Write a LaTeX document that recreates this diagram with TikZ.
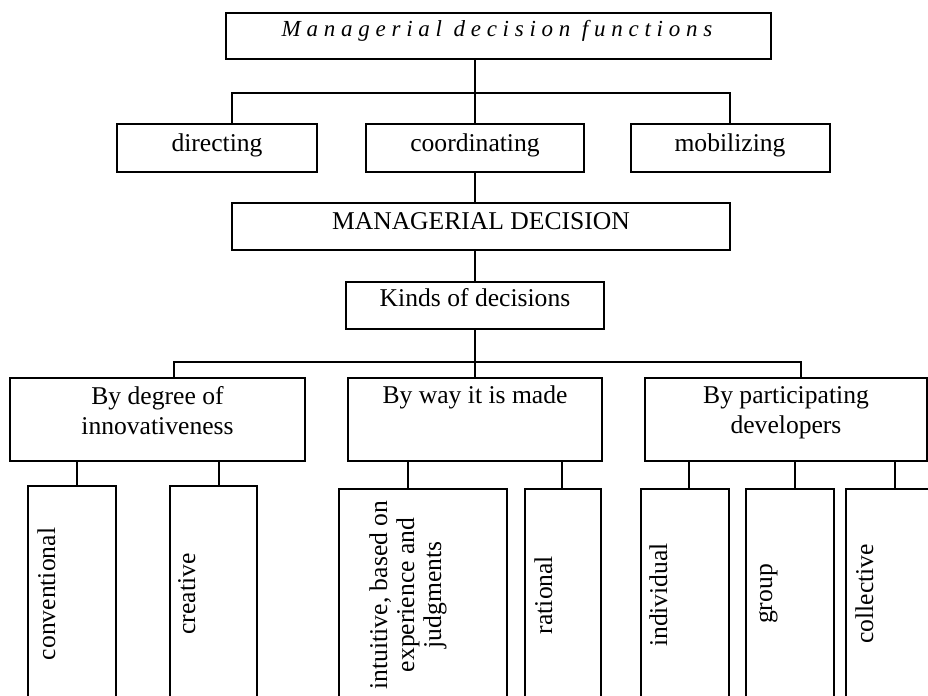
\documentclass[tikz,border=0pt]{standalone}
\usepackage{fontspec}
\setmainfont{Liberation Serif}
\usetikzlibrary{fit}
\tikzset{
  box/.style={draw,line width=0.65pt,inner sep=0pt},
  lbl/.style={font=\fontsize{12.8}{15}\selectfont,inner sep=0pt},
  vlbl/.style={lbl,rotate=90},
  ttl/.style={font=\fontsize{11.5}{13}\selectfont\itshape\addfontfeature{LetterSpace=25},inner sep=0pt},
  link/.style={line width=0.65pt}
}
\begin{document}
\begin{tikzpicture}[x=0.5pt,y=-0.5pt]
  \useasboundingbox (0,0) rectangle (928,696);
  \clip (0,0) rectangle (928,696);
  % functions and decision
  \node[box,fit={(226,13) (771,59)}] (func) {};
  \node[box,fit={(117,124) (317,172)}] (dir) {};
  \node[box,fit={(366,124) (584,172)}] (coord) {};
  \node[box,fit={(631,124) (830,172)}] (mob) {};
  \node[box,fit={(232,203) (730,250)}] (dec) {};
  \node[box,fit={(346,282) (604,329)}] (kinds) {};
  % criteria
  \node[box,fit={(10,378) (305,461)}] (innov) {};
  \node[box,fit={(348,378) (602,461)}] (way) {};
  \node[box,fit={(645,378) (927,461)}] (devs) {};
  % kinds of decisions
  \node[box,fit={(28,486) (116,702)}] (conv) {};
  \node[box,fit={(170,486) (257,702)}] (creat) {};
  \node[box,fit={(339,489) (507,702)}] (intu) {};
  \node[box,fit={(525,489) (601,702)}] (rat) {};
  \node[box,fit={(641,489) (729,702)}] (indiv) {};
  \node[box,fit={(746,489) (834,702)}] (grp) {};
  \node[box,fit={(846,489) (944,702)}] (coll) {};
  % texts
  \node[ttl,anchor=base] (functxt) at (497,37) {Managerial decision functions};
  \node[lbl,anchor=base] (dirtxt) at (217,151) {directing};
  \node[lbl,anchor=base] (coordtxt) at (475,151) {coordinating};
  \node[lbl,anchor=base] (mobtxt) at (730,151) {mobilizing};
  \node[lbl,anchor=base] (dectxt) at (481,229) {MANAGERIAL DECISION};
  \node[lbl,anchor=base] (kindstxt) at (475,306) {Kinds of decisions};
  \node[lbl,anchor=north,align=center] (innovtxt) at (157.5,386) {By degree of\\innovativeness};
  \node[lbl,anchor=base] (waytxt) at (475,403) {By way it is made};
  \node[lbl,anchor=north,align=center] (devstxt) at (786,386) {By participating\\developers};
  \node[vlbl,anchor=base] (convtxt) at (55,594) {conventional};
  \node[vlbl,anchor=base] (creattxt) at (195,594) {creative};
  \node[vlbl,align=center,font=\fontsize{12.8}{13.5}\selectfont] (intutxt) at (408,595) {intuitive, based on\\experience and\\judgments};
  \node[vlbl,anchor=base] (rattxt) at (552,595) {rational};
  \node[vlbl,anchor=base] (indivtxt) at (667,595) {individual};
  \node[vlbl,anchor=base] (grptxt) at (772,594) {group};
  \node[vlbl,anchor=base] (colltxt) at (873,594) {collective};
  % connectors
  \coordinate (fj1) at (232,93);
  \coordinate (fj2) at (730,93);
  \coordinate (kj1) at (174,362);
  \coordinate (kj2) at (801,362);
  \draw[link] (coord.north |- func.south) -- (coord.north);
  \draw[link] (fj1 |- dir.north) -- (fj1) -- (fj2) -- (fj2 |- mob.north);
  \draw[link] (coord.south) -- (coord.south |- dec.north);
  \draw[link] (kinds.north |- dec.south) -- (kinds.north);
  \draw[link] (kinds.south) -- (way.north);
  \draw[link] (kj1 |- innov.north) -- (kj1) -- (kj2) -- (kj2 |- devs.north);
  \foreach \leaf/\crit/\xx in {conv/innov/77,creat/innov/219,intu/way/408,rat/way/562,
      indiv/devs/689,grp/devs/795,coll/devs/895}
    \draw[link] (\xx,0 |- \crit.south) -- (\xx,0 |- \leaf.north);
\end{tikzpicture}
\end{document}
